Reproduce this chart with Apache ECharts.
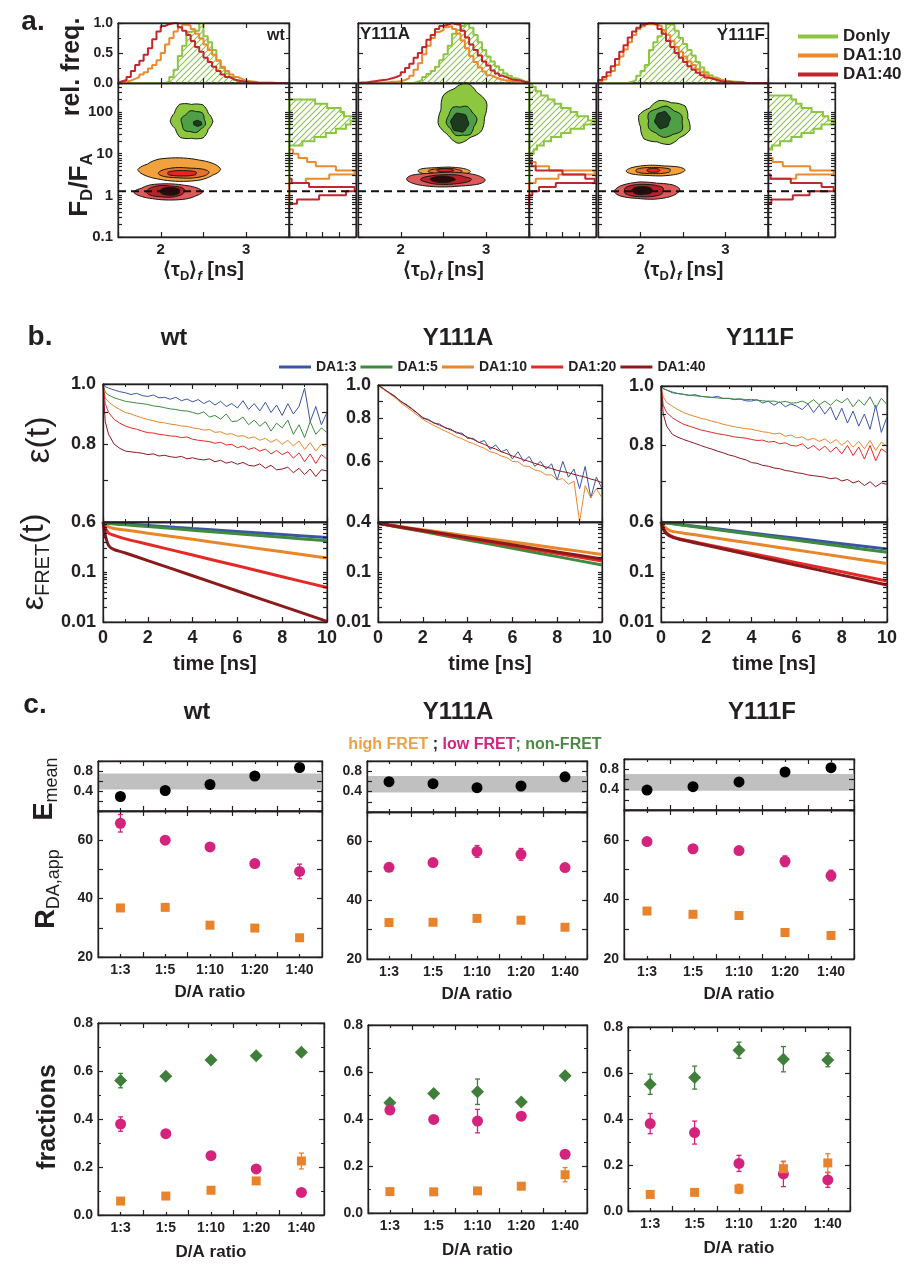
<!DOCTYPE html>
<html><head><meta charset="utf-8">
<script src="https://cdn.jsdelivr.net/npm/echarts@6/dist/echarts.min.js"></script>
<style>html,body{margin:0;padding:0;background:#fff}#c{width:904px;height:1264px}</style>
</head><body><div id="c"></div>
<script>
// ================= DATA =================
// ---- panel a: <tau_D>_f histograms (bins from 1.5 ns, width 0.05 ns) ----
const tauBinStart = 1.5, tauBinWidth = 0.05;
const wt_tau_Donly = [0,0,0,0,0,0,0,0,0,0, 0,0.02,0.1,0.22,0.45,0.62,0.85,0.87,0.87,1.0, 0.78,0.68,0.55,0.38,0.25,0.16,0.1,0.05,0.03,0.01, 0,0,0,0,0,0,0,0,0,0];
const wt_tau_DA10  = [0.01,0.02,0.04,0.07,0.1,0.14,0.18,0.24,0.3,0.38, 0.5,0.64,0.75,0.86,0.93,0.97,0.96,0.9,0.82,0.74, 0.64,0.55,0.47,0.37,0.27,0.2,0.14,0.1,0.07,0.04, 0.03,0.02,0.01,0.01,0.01,0.01,0,0,0,0];
const wt_tau_DA40  = [0.03,0.05,0.1,0.2,0.3,0.37,0.47,0.58,0.73,0.86, 0.95,0.98,1.0,1.0,0.93,0.87,0.8,0.7,0.6,0.52, 0.42,0.35,0.27,0.2,0.14,0.1,0.07,0.04,0.03,0.02, 0.01,0.01,0,0,0,0,0,0,0,0];
const Y111A_tau_Donly = [0,0,0,0,0,0,0,0,0,0, 0,0,0,0.02,0.05,0.1,0.15,0.2,0.27,0.38, 0.48,0.62,0.82,0.88,0.95,1.0,0.92,0.8,0.68,0.55, 0.44,0.36,0.28,0.22,0.16,0.12,0.08,0.06,0.03,0.02];
const Y111A_tau_DA10  = [0,0,0,0,0.01,0.01,0.01,0.02,0.02,0.03, 0.05,0.08,0.12,0.22,0.33,0.48,0.62,0.75,0.85,0.88, 0.93,0.95,0.9,0.82,0.71,0.58,0.45,0.35,0.26,0.19, 0.13,0.1,0.07,0.05,0.04,0.03,0.02,0.01,0.01,0];
const Y111A_tau_DA40  = [0.01,0.01,0.02,0.03,0.04,0.05,0.06,0.08,0.1,0.13, 0.18,0.25,0.32,0.42,0.5,0.6,0.72,0.8,0.9,0.95, 0.97,1.0,0.98,0.97,0.87,0.76,0.64,0.55,0.46,0.36, 0.29,0.21,0.16,0.12,0.09,0.06,0.05,0.04,0.02,0.01];
const Y111F_tau_Donly = [0,0,0,0,0,0,0,0.02,0.05,0.12, 0.2,0.3,0.55,0.68,0.78,0.88,0.98,0.97,0.87,0.75, 0.65,0.55,0.46,0.35,0.26,0.18,0.13,0.09,0.06,0.04, 0.03,0.02,0.02,0.01,0,0,0,0,0,0];
const Y111F_tau_DA10  = [0.02,0.06,0.12,0.2,0.3,0.44,0.56,0.68,0.8,0.9, 0.94,0.98,0.98,0.97,0.95,0.88,0.8,0.7,0.6,0.52, 0.44,0.36,0.3,0.23,0.18,0.13,0.09,0.07,0.05,0.03, 0.02,0.02,0.01,0.01,0,0,0,0,0,0];
const Y111F_tau_DA40  = [0.05,0.1,0.18,0.28,0.4,0.52,0.63,0.76,0.86,0.92, 0.97,1.0,1.0,0.97,0.9,0.82,0.7,0.6,0.5,0.42, 0.35,0.28,0.22,0.17,0.13,0.09,0.07,0.05,0.03,0.02, 0.02,0.01,0.01,0.01,0,0,0,0,0,0];

// ---- panel a: F_D/F_A histograms (bins in log10(F_D/F_A) from -0.3, width 0.1) ----
const fdBinStart = -0.3, fdBinWidth = 0.1;
const wt_fd_Donly = [0,0,0,0,0,0,0,0,0,0, 0,0,0,0,0,0.2,0.38,0.55,0.7,0.85, 0.92,0.97,0.82,0.77,0.57,0.39];
const wt_fd_DA10  = [0,0,0,0,0,0,0.25,0.6,0.98,0.7, 0.4,0.27,0.14,0.06];
const wt_fd_DA40  = [0,0.12,0.45,0.85,0.98,0.3,0.04];
const Y111A_fd_Donly = [0,0,0,0,0,0,0,0,0,0, 0,0,0,0.07,0.12,0.22,0.33,0.48,0.62,0.82, 0.98,0.88,0.72,0.62,0.48,0.38,0.28,0.18,0.1,0.05];
const Y111A_fd_DA10  = [0,0,0,0,0,0,0.1,0.44,0.98,0.3, 0.1,0.04];
const Y111A_fd_DA40  = [0,0,0,0.05,0.15,0.4,0.98,0.84,0.5,0.1, 0.04];
const Y111F_fd_Donly = [0,0,0,0,0,0,0,0,0,0, 0,0,0,0,0.06,0.18,0.35,0.5,0.68,0.8, 0.98,0.9,0.82,0.65,0.5,0.42,0.35];
const Y111F_fd_DA10  = [0,0,0,0,0,0,0,0.42,0.98,0.63, 0.22,0.07];
const Y111F_fd_DA40  = [0,0.05,0.37,0.62,0.98,0.8,0.34,0.04];
const fdfaRef = 1.26; // dashed reference line

// ---- panel a: 2D contour levels [tau centre, log10(FD/FA) centre, half-width ns, half-height decades] ----
const wt_blob_Donly = [[2.36,1.78,0.25,0.43],[2.38,1.77,0.14,0.27],[2.43,1.73,0.05,0.07]];
const wt_blob_DA10  = [[2.22,0.62,0.48,0.29],[2.27,0.54,0.31,0.13],[2.25,0.53,0.18,0.07]];
const wt_blob_DA40  = [[2.09,0.084,0.40,0.2],[2.06,0.096,0.235,0.145],[2.11,0.096,0.12,0.1]];
const Y111A_blob_Donly = [[2.72,1.97,0.29,0.68],[2.71,1.79,0.167,0.38],[2.69,1.75,0.108,0.22]];
const Y111A_blob_DA10  = [[2.51,0.58,0.32,0.1],[2.52,0.58,0.2,0.07],[2.52,0.6,0.1,0.04]];
const Y111A_blob_DA40  = [[2.53,0.38,0.48,0.18],[2.53,0.38,0.3,0.12],[2.49,0.385,0.147,0.08]];
const Y111F_blob_Donly = [[2.28,1.75,0.3,0.54],[2.29,1.77,0.215,0.36],[2.26,1.81,0.09,0.2]];
const Y111F_blob_DA10  = [[2.18,0.595,0.36,0.13],[2.15,0.595,0.216,0.08],[2.15,0.6,0.08,0.05]];
const Y111F_blob_DA40  = [[2.08,0.113,0.4,0.21],[2.04,0.113,0.245,0.16],[2.02,0.116,0.127,0.1]];
// contour outline irregularity (radial factors around the level)
const shape_Donly = [1.0,0.9,1.06,0.94,1.1,0.92,1.0,0.86,1.05,0.95,1.08,0.9];
const shape_DA    = [1.0,0.96,0.92,0.97,1.0,0.9,1.02,0.97,0.94,0.98,1.0,0.93];

// ---- panel b: epsilon(t) ----
const bTime = [0,0.1,0.25,0.5,0.75,1,1.25,1.5,1.75,2,2.25,2.5,2.75,3,3.25,3.5,3.75,4,4.25,4.5,4.75,5,5.25,5.5,5.75,6,6.25,6.5,6.75,7,7.25,7.5,7.75,8,8.25,8.5,8.75,9,9.25,9.5,9.75,10];
const wt_eps_DA3 = [1.000,0.990,0.985,0.978,0.972,0.968,0.962,0.966,0.958,0.955, 0.960,0.950,0.952,0.945,0.952,0.940,0.946,0.936,0.944,0.930, 0.940,0.925,0.938,0.920,0.930,0.915,0.940,0.910,0.930,0.905, 0.935,0.900,0.925,0.890,0.930,0.895,0.920,0.985,0.870,0.920, 0.860,0.900];
const wt_eps_DA5 = [1.000,0.970,0.960,0.950,0.944,0.938,0.935,0.932,0.930,0.927, 0.922,0.920,0.916,0.912,0.910,0.906,0.905,0.900,0.895,0.902, 0.885,0.890,0.878,0.895,0.870,0.872,0.885,0.860,0.875,0.855, 0.870,0.840,0.865,0.850,0.875,0.830,0.860,0.820,0.870,0.830, 0.850,0.835];
const wt_eps_DA10 = [1.000,0.950,0.935,0.921,0.910,0.900,0.895,0.888,0.882,0.877, 0.873,0.868,0.866,0.862,0.860,0.856,0.855,0.850,0.848,0.843, 0.845,0.836,0.838,0.830,0.832,0.824,0.826,0.818,0.822,0.812, 0.818,0.806,0.815,0.800,0.812,0.795,0.810,0.785,0.805,0.780, 0.800,0.790];
const wt_eps_DA20 = [1.000,0.930,0.900,0.877,0.865,0.856,0.850,0.846,0.840,0.835, 0.834,0.830,0.828,0.825,0.824,0.820,0.822,0.815,0.812,0.810, 0.808,0.803,0.806,0.798,0.800,0.790,0.795,0.785,0.790,0.780, 0.786,0.772,0.782,0.770,0.778,0.760,0.775,0.750,0.772,0.745, 0.770,0.757];
const wt_eps_DA40 = [1.000,0.870,0.830,0.800,0.788,0.780,0.778,0.776,0.774,0.770, 0.772,0.766,0.768,0.764,0.762,0.765,0.758,0.761,0.757,0.755, 0.758,0.750,0.754,0.746,0.750,0.743,0.748,0.740,0.738,0.744, 0.732,0.740,0.728,0.730,0.735,0.720,0.732,0.715,0.730,0.710, 0.728,0.725];
const Y111A_eps_DA3 = [1.000,0.990,0.975,0.950,0.930,0.895,0.880,0.855,0.830,0.800, 0.795,0.775,0.770,0.750,0.745,0.725,0.725,0.700,0.700,0.680, 0.690,0.650,0.670,0.640,0.650,0.610,0.640,0.600,0.620,0.580, 0.600,0.570,0.590,0.530,0.600,0.540,0.570,0.500,0.580,0.470, 0.540,0.500];
const Y111A_eps_DA10 = [1.000,0.985,0.970,0.945,0.920,0.890,0.865,0.842,0.818,0.795, 0.778,0.762,0.748,0.735,0.722,0.708,0.698,0.685,0.676,0.664, 0.655,0.640,0.634,0.622,0.615,0.600,0.598,0.582,0.580,0.566, 0.562,0.548,0.548,0.530,0.535,0.515,0.525,0.400,0.510,0.470, 0.500,0.470];
const Y111A_eps_DA40 = [1.000,0.990,0.975,0.950,0.925,0.900,0.875,0.852,0.828,0.805, 0.790,0.776,0.764,0.753,0.740,0.730,0.718,0.705,0.695,0.682, 0.672,0.660,0.652,0.640,0.632,0.622,0.615,0.606,0.600,0.592, 0.585,0.578,0.572,0.565,0.560,0.556,0.550,0.545,0.540,0.533, 0.528,0.520];
const Y111F_eps_DA3 = [1.000,0.990,0.985,0.975,0.972,0.969,0.965,0.968,0.962,0.960, 0.958,0.962,0.954,0.955,0.950,0.952,0.946,0.945,0.950,0.938, 0.945,0.930,0.942,0.925,0.935,0.927,0.915,0.935,0.905,0.930, 0.900,0.925,0.880,0.920,0.870,0.910,0.860,0.900,0.850,0.930, 0.840,0.890];
const Y111F_eps_DA5 = [1.000,0.990,0.985,0.978,0.972,0.969,0.966,0.964,0.962,0.960, 0.958,0.956,0.955,0.954,0.952,0.953,0.950,0.951,0.948,0.946, 0.944,0.945,0.940,0.944,0.938,0.939,0.945,0.935,0.950,0.932, 0.945,0.930,0.950,0.939,0.955,0.925,0.950,0.930,0.960,0.920, 0.955,0.933];
const Y111F_eps_DA10 = [1.000,0.960,0.940,0.927,0.915,0.905,0.898,0.892,0.886,0.882, 0.876,0.872,0.866,0.862,0.858,0.855,0.852,0.850,0.846,0.842, 0.840,0.835,0.838,0.828,0.832,0.823,0.826,0.816,0.822,0.812, 0.820,0.806,0.818,0.800,0.815,0.795,0.812,0.790,0.815,0.785, 0.810,0.798];
const Y111F_eps_DA20 = [1.000,0.930,0.905,0.888,0.876,0.866,0.860,0.854,0.848,0.844, 0.840,0.836,0.833,0.830,0.826,0.824,0.822,0.818,0.815,0.816, 0.810,0.812,0.805,0.808,0.800,0.798,0.805,0.790,0.800,0.785, 0.798,0.780,0.795,0.775,0.800,0.770,0.795,0.760,0.800,0.755, 0.790,0.778];
const Y111F_eps_DA40 = [1.000,0.900,0.860,0.834,0.825,0.818,0.812,0.806,0.800,0.794, 0.789,0.783,0.778,0.772,0.768,0.762,0.758,0.750,0.748,0.742, 0.740,0.735,0.733,0.728,0.726,0.722,0.720,0.716,0.714,0.712, 0.710,0.706,0.708,0.700,0.704,0.695,0.700,0.688,0.698,0.685, 0.695,0.691];

// ---- panel b: epsilon_FRET(t) fits ----
const bFitTime = [0,0.1,0.25,0.5,1,2,4,6,8,10];
const wt_fret_DA3  = [1.0,0.97,0.955,0.94,0.908,0.847,0.738,0.645,0.562,0.49];
const wt_fret_DA5  = [1.0,0.96,0.93,0.914,0.877,0.809,0.687,0.582,0.494,0.42];
const wt_fret_DA10 = [1.0,0.88,0.8,0.74,0.69,0.598,0.45,0.337,0.253,0.19];
const wt_fret_DA20 = [1.0,0.75,0.6,0.54,0.46,0.359,0.218,0.133,0.0806,0.049];
const wt_fret_DA40 = [1.0,0.55,0.34,0.28,0.24,0.169,0.084,0.0417,0.0207,0.0103];
const Y111A_fret_DA5  = [1.0,0.93,0.9,0.857,0.778,0.643,0.438,0.298,0.203,0.138];
const Y111A_fret_DA10 = [1.0,0.93,0.9,0.869,0.81,0.70,0.528,0.398,0.30,0.225];
const Y111A_fret_DA20 = [1.0,0.93,0.9,0.86,0.79,0.664,0.469,0.332,0.235,0.166];
const Y111A_fret_DA40 = [1.0,0.93,0.9,0.863,0.795,0.675,0.486,0.35,0.252,0.182];
const Y111F_fret_DA3  = [1.0,0.98,0.96,0.93,0.875,0.773,0.604,0.472,0.369,0.288];
const Y111F_fret_DA5  = [1.0,0.975,0.955,0.923,0.861,0.75,0.569,0.432,0.327,0.248];
const Y111F_fret_DA10 = [1.0,0.85,0.73,0.65,0.598,0.512,0.375,0.275,0.202,0.148];
const Y111F_fret_DA20 = [1.0,0.75,0.6,0.51,0.44,0.356,0.234,0.154,0.101,0.066];
const Y111F_fret_DA40 = [1.0,0.72,0.58,0.5,0.43,0.342,0.216,0.137,0.0867,0.055];

// ---- panel c ----
const ratios = ['1:3','1:5','1:10','1:20','1:40'];
const wt_Emean = [0.29,0.41,0.53,0.70,0.87];     const wt_Eband = [0.43,0.75];
const Y111A_Emean = [0.594,0.555,0.476,0.51,0.69]; const Y111A_Eband = [0.38,0.706];
const Y111F_Emean = [0.39,0.457,0.55,0.745,0.83];  const Y111F_Eband = [0.378,0.706];
const wt_Rlow = [65.8,60.0,57.7,52.0,49.3];   const wt_Rlow_err = [3.0,0,0,0,2.5];
const wt_Rhigh = [36.8,37.0,30.9,29.9,26.6];
const Y111A_Rlow = [51.2,52.8,56.6,55.6,51.1]; const Y111A_Rlow_err = [0.8,0.8,2.0,2.0,0.8];
const Y111A_Rhigh = [32.4,32.5,33.8,33.2,30.8];
const Y111F_Rlow = [59.4,57.0,56.4,52.8,48.0]; const Y111F_Rlow_err = [0.8,0.8,0.8,1.8,1.8];
const Y111F_Rhigh = [36.1,35.0,34.6,28.9,27.9];
const wt_fNon = [0.56,0.578,0.646,0.664,0.678];   const wt_fNon_err = [0.03,0.01,0.01,0.01,0.01];
const wt_fLow = [0.379,0.339,0.247,0.192,0.094];  const wt_fLow_err = [0.03,0.01,0.01,0.01,0.01];
const wt_fHigh = [0.058,0.079,0.103,0.142,0.225]; const wt_fHigh_err = [0.005,0.005,0.01,0.01,0.033];
const Y111A_fNon = [0.469,0.509,0.516,0.472,0.584]; const Y111A_fNon_err = [0.01,0.01,0.054,0.01,0.01];
const Y111A_fLow = [0.438,0.398,0.391,0.412,0.25];  const Y111A_fLow_err = [0.01,0.01,0.05,0.01,0.01];
const Y111A_fHigh = [0.091,0.09,0.094,0.114,0.163]; const Y111A_fHigh_err = [0.005,0.005,0.005,0.005,0.03];
const Y111F_fNon = [0.551,0.58,0.699,0.66,0.657];   const Y111F_fNon_err = [0.044,0.05,0.035,0.055,0.03];
const Y111F_fLow = [0.38,0.341,0.207,0.161,0.135];  const Y111F_fLow_err = [0.044,0.05,0.035,0.055,0.032];
const Y111F_fHigh = [0.072,0.081,0.096,0.184,0.209]; const Y111F_fHigh_err = [0.005,0.005,0.02,0.03,0.04];

// ================= BUILD =================
const FONT = 'Liberation Sans';
const INK = '#231f20';
const COL = {donly:'#8cc540', da10:'#ec8a2e', da40:'#c1272d',
  DA3:'#3a55a5', DA5:'#3f8a3f', DA10:'#e8862a', DA20:'#e32a27', DA40:'#8b1a1d',
  hi:'#e8832c', lo:'#d4237c', non:'#3f7f3a'};
const grids=[], xAxis=[], yAxis=[], series=[], graphic=[];

function merge(a,b){for(const k in b){const v=b[k];if(v&&typeof v==='object'&&!Array.isArray(v)&&a[k]&&typeof a[k]==='object'&&!Array.isArray(a[k]))merge(a[k],v);else a[k]=v;}return a;}
function mkAxis(list,g,pos,s,show,extra){
  const ax={gridIndex:g,position:pos,type:s.type||'value',
    axisLine:{show:true,onZero:false,lineStyle:{color:INK,width:1.3}},
    axisTick:{show:true,inside:true,length:s.tickLen||5,lineStyle:{color:INK,width:1.2}},
    axisLabel:{show:!!show,color:INK,fontFamily:FONT,fontWeight:'bold',fontSize:s.fs||14,margin:s.margin==null?6:s.margin,hideOverlap:false},
    splitLine:{show:false},splitArea:{show:false},z:6};
  if(s.type==='category'){ax.data=s.data;ax.boundaryGap=true;}
  else{ax.min=s.min;ax.max=s.max;if(s.interval!=null)ax.interval=s.interval;}
  if(s.ticks)ax.axisTick.customValues=s.ticks;
  if(s.labels)ax.axisLabel.customValues=s.labels;
  if(s.fmt)ax.axisLabel.formatter=s.fmt;
  if(s.minor)ax.minorTick={show:true,splitNumber:s.minor,length:3,lineStyle:{color:INK,width:1}};
  if(extra)merge(ax,extra);
  list.push(ax);return list.length-1;
}
function panel(box,xs,ys,o){
  o=o||{};
  const g=grids.length;
  grids.push({left:box[0],top:box[1],width:box[2],height:box[3],show:true,borderColor:INK,borderWidth:1,
    backgroundColor:'rgba(0,0,0,0)',containLabel:false,outerBoundsMode:'none'});
  const x=mkAxis(xAxis,g,'bottom',xs,o.xl,o.xn);
  mkAxis(xAxis,g,'top',xs,false);
  if(xs.type==='category'){
    const ex={axisLine:{show:false},axisTick:{alignWithLabel:true,length:3}};
    mkAxis(xAxis,g,'bottom',xs,false,ex); mkAxis(xAxis,g,'top',xs,false,ex);
  }
  const y=mkAxis(yAxis,g,'left',ys,o.yl);
  mkAxis(yAxis,g,'right',ys,false);
  return {g,x,y};
}
function logTicks(lo,hi){const out=[];for(let n=-3;n<=3;n++)for(let k=1;k<10;k++){const v=Math.log10(k*Math.pow(10,n));if(v>=lo-1e-9&&v<=hi+1e-9)out.push(v);}return out;}
function T(x,y,text,size,o){o=o||{};
  const st={text,fill:INK,fontFamily:FONT,fontWeight:o.weight||'bold',fontSize:size,align:o.align||'center',verticalAlign:'middle',
    textAlign:o.align||'center',textVerticalAlign:'middle'};
  if(o.color)st.fill=o.color;
  if(o.rich)st.rich=o.rich;
  graphic.push({type:'text',x,y,rotation:o.rot||0,z:20,silent:true,style:st});
}
function rtok(size,extra){return Object.assign({fontFamily:FONT,fontWeight:'bold',fontSize:size,fill:INK,color:INK},extra||{});}

const hatchImg=(function(){const c=document.createElement('canvas');c.width=6;c.height=6;const x=c.getContext('2d');
  x.strokeStyle=COL.donly;x.lineWidth=1.1;x.beginPath();x.moveTo(0,6);x.lineTo(6,0);x.moveTo(-1,1);x.lineTo(1,-1);x.moveTo(5,7);x.lineTo(7,5);x.stroke();return c;})();
const hatchFill={image:hatchImg,repeat:'repeat'};

function tauSteps(vals){const p=[[tauBinStart,0]];vals.forEach((v,i)=>{const a=+(tauBinStart+i*tauBinWidth).toFixed(3);p.push([a,v],[+(a+tauBinWidth).toFixed(3),v]);});p.push([+(tauBinStart+vals.length*tauBinWidth).toFixed(3),0]);return p;}
function fdSteps(vals){const p=[[0,fdBinStart]];vals.forEach((v,i)=>{const a=+(fdBinStart+i*fdBinWidth).toFixed(3);p.push([v,a],[v,+(a+fdBinWidth).toFixed(3)]);});p.push([0,+(fdBinStart+vals.length*fdBinWidth).toFixed(3)]);return p;}
function radial(sh,a,phase){const n=sh.length;const u=((a/(2*Math.PI))*n+phase)%n;const i=Math.floor(u),f=u-i;return sh[i%n]*(1-f)+sh[(i+1)%n]*f;}

// ---------- panel a ----------
const aSets=[
  {tau:[wt_tau_Donly,wt_tau_DA10,wt_tau_DA40],fd:[wt_fd_Donly,wt_fd_DA10,wt_fd_DA40],blob:[wt_blob_Donly,wt_blob_DA10,wt_blob_DA40]},
  {tau:[Y111A_tau_Donly,Y111A_tau_DA10,Y111A_tau_DA40],fd:[Y111A_fd_Donly,Y111A_fd_DA10,Y111A_fd_DA40],blob:[Y111A_blob_Donly,Y111A_blob_DA10,Y111A_blob_DA40]},
  {tau:[Y111F_tau_Donly,Y111F_tau_DA10,Y111F_tau_DA40],fd:[Y111F_fd_Donly,Y111F_fd_DA10,Y111F_fd_DA40],blob:[Y111F_blob_Donly,Y111F_blob_DA10,Y111F_blob_DA40]}];
const aLayout=[
  {top:[118,23,171,60],main:[118,83,171,154],marg:[289,83,67,154]},
  {top:[358,23,171,60],main:[358,83,171,154],marg:[529,83,67,154]},
  {top:[598,23,170,60],main:[598,83,170,154],marg:[768,83,67,154]}];
const LOGMIN=-1, LOGMAX=Math.log10(500);
const aLogTicks=logTicks(LOGMIN,LOGMAX);
const decLbl={'-2':'0.01','-1':'0.1','0':'1','1':'10','2':'100'};
const tauKeys=[['Donly',COL.donly],['DA1:10',COL.da10],['DA1:40',COL.da40]];
const blobCols=[['#8dc63f','#4f9f47','#1e3a1e'],['#f2a23c','#e8702a','#e3261f'],['#dc5a5a','#b8202a','#2b0b0b']];
const blobShapes=[shape_Donly,shape_DA,shape_DA];
const tauName={name:'{m|⟨τ}{s|D}{m|⟩}{f|f}{m| [ns]}',nameLocation:'middle',nameGap:20,nameMoveOverlap:false,
  nameTextStyle:{rich:{m:rtok(20,{lineHeight:26}),s:rtok(13,{lineHeight:10,verticalAlign:'bottom'}),f:rtok(13,{fontStyle:'italic',lineHeight:10,verticalAlign:'bottom'})}}};

aSets.forEach((S,i)=>{
  const L=aLayout[i];
  const tp=panel(L.top,{min:1.5,max:3.5,interval:0.5},{min:0,max:1,interval:0.5,minor:2,fmt:v=>v.toFixed(1),margin:5},{yl:i===0});
  const mn=panel(L.main,{min:1.5,max:3.5,interval:0.5,fs:15,margin:5,fmt:v=>Math.abs(v-Math.round(v))<1e-6?String(Math.round(v)):''},
    {min:LOGMIN,max:LOGMAX,ticks:aLogTicks,labels:[-1,0,1,2],fs:15,margin:5,tickLen:4,fmt:v=>decLbl[Math.round(v)]},{xl:true,yl:i===0,xn:tauName});
  const mg=panel(L.marg,{min:0,max:1,interval:0.25},{min:LOGMIN,max:LOGMAX,ticks:aLogTicks,tickLen:4},{});
  S.tau.forEach((arr,k)=>{
    const o={type:'line',name:tauKeys[k][0],xAxisIndex:tp.x,yAxisIndex:tp.y,data:tauSteps(arr),color:tauKeys[k][1],symbol:'none',
      lineStyle:{width:2,color:tauKeys[k][1]},z:3+k,animation:false};
    if(k===0)o.areaStyle={color:hatchFill,opacity:1};
    series.push(o);
  });
  S.blob.forEach((lv,k)=>{
    const cols=blobCols[k], sh=blobShapes[k];
    series.push({type:'custom',xAxisIndex:mn.x,yAxisIndex:mn.y,data:lv,encode:{x:0,y:1},z:3+k,animation:false,silent:true,
      renderItem:(p,api)=>{const cx=api.value(0),cy=api.value(1),hw=api.value(2),hh=api.value(3);const pts=[];
        for(let j=0;j<60;j++){const a=j/60*2*Math.PI;const r=radial(sh,a,p.dataIndex*2.5+i*1.3);pts.push(api.coord([cx+hw*r*Math.cos(a),cy+hh*r*Math.sin(a)]));}
        return {type:'polygon',shape:{points:pts},style:{fill:cols[p.dataIndex],stroke:'#161616',lineWidth:1}};}});
  });
  const ref=Math.log10(fdfaRef);
  series.push({type:'line',xAxisIndex:mn.x,yAxisIndex:mn.y,data:[[1.5,ref],[3.5,ref]],symbol:'none',lineStyle:{color:'#111',width:2,type:[8,5]},z:9,animation:false});
  const fdD=S.fd[0];
  series.push({type:'custom',xAxisIndex:mg.x,yAxisIndex:mg.y,data:[[0,0]],encode:{x:0,y:1},z:3,animation:false,silent:true,
    renderItem:(p,api)=>({type:'polygon',shape:{points:fdSteps(fdD).map(q=>api.coord(q))},style:{fill:hatchFill,stroke:COL.donly,lineWidth:2}})});
  [[S.fd[1],COL.da10],[S.fd[2],COL.da40]].forEach(([arr,c],k)=>{
    series.push({type:'line',xAxisIndex:mg.x,yAxisIndex:mg.y,data:fdSteps(arr),symbol:'none',color:c,lineStyle:{width:2,color:c},z:4+k,animation:false});
  });
  series.push({type:'line',xAxisIndex:mg.x,yAxisIndex:mg.y,data:[[0,ref],[1,ref]],symbol:'none',lineStyle:{color:'#111',width:2,type:[8,5]},z:9,animation:false});
});
T(276,36,'wt',16);
T(360,34,'Y111A',17,{align:'left'});
T(765,35,'Y111F',17,{align:'right'});
T(33,22,'a.',28);
T(72,67,'rel. freq.',25,{rot:Math.PI/2});
T(80,185,'{m|F}{s|D}{m|/F}{s|A}',26,{rot:Math.PI/2,rich:{m:rtok(26,{lineHeight:32}),s:rtok(17,{lineHeight:12,verticalAlign:'bottom'})}});

// ---------- panel b ----------
const bKeys=['DA3','DA5','DA10','DA20','DA40'];
const bLabel={DA3:'b:DA1:3',DA5:'b:DA1:5',DA10:'b:DA1:10',DA20:'b:DA1:20',DA40:'b:DA1:40'};
const bSets=[
  {lo:0.6,eps:{DA3:wt_eps_DA3,DA5:wt_eps_DA5,DA10:wt_eps_DA10,DA20:wt_eps_DA20,DA40:wt_eps_DA40},
   fret:{DA3:wt_fret_DA3,DA5:wt_fret_DA5,DA10:wt_fret_DA10,DA20:wt_fret_DA20,DA40:wt_fret_DA40}},
  {lo:0.4,eps:{DA3:Y111A_eps_DA3,DA10:Y111A_eps_DA10,DA40:Y111A_eps_DA40},
   fret:{DA5:Y111A_fret_DA5,DA20:Y111A_fret_DA20,DA40:Y111A_fret_DA40,DA10:Y111A_fret_DA10}},
  {lo:0.6,eps:{DA3:Y111F_eps_DA3,DA5:Y111F_eps_DA5,DA10:Y111F_eps_DA10,DA20:Y111F_eps_DA20,DA40:Y111F_eps_DA40},
   fret:{DA3:Y111F_fret_DA3,DA5:Y111F_fret_DA5,DA10:Y111F_fret_DA10,DA20:Y111F_fret_DA20,DA40:Y111F_fret_DA40}}];
const bLayout=[{top:[103,384,224,138],bot:[103,522,224,100]},{top:[378,385,224,137],bot:[378,522,224,100]},{top:[661,386,226,136],bot:[661,522,226,100]}];
const timeName={name:'time [ns]',nameLocation:'middle',nameGap:32,nameMoveOverlap:false,nameTextStyle:{fontFamily:FONT,fontWeight:'bold',fontSize:20,color:INK}};
bSets.forEach((S,i)=>{
  const L=bLayout[i];
  const tk=[];for(let v=S.lo;v<=1.0001;v+=0.1)tk.push(Math.log10(+v.toFixed(1)));
  const lb=(S.lo<0.5?[0.4,0.6,0.8,1.0]:[0.6,0.8,1.0]).map(v=>Math.log10(v));
  const tp=panel(L.top,{min:0,max:10,interval:2,minor:2},{min:Math.log10(S.lo),max:0,ticks:tk,labels:lb,fs:18,margin:7,fmt:v=>Math.pow(10,v).toFixed(1)},{yl:true});
  const bt=panel(L.bot,{min:0,max:10,interval:2,minor:2,fs:18,margin:7},{min:-2,max:0,ticks:logTicks(-2,0),labels:[-2,-1],tickLen:4,fs:18,margin:7,fmt:v=>decLbl[Math.round(v)]},{xl:true,yl:true,xn:timeName});
  bKeys.forEach(k=>{const arr=S.eps[k];if(!arr)return;
    series.push({type:'line',name:bLabel[k],xAxisIndex:tp.x,yAxisIndex:tp.y,data:bTime.map((t,j)=>[t,Math.log10(arr[j])]),symbol:'none',color:COL[k],lineStyle:{width:1,color:COL[k]},animation:false,clip:true});
  });
  bKeys.forEach(k=>{const arr=S.fret[k];if(!arr)return;
    series.push({type:'line',name:bLabel[k],xAxisIndex:bt.x,yAxisIndex:bt.y,data:bFitTime.map((t,j)=>[t,Math.log10(arr[j])]),symbol:'none',smooth:0.2,color:COL[k],lineStyle:{width:3,color:COL[k]},animation:false,clip:true});
  });
});
T(40,337,'b.',28);
T(174,338,'wt',24); T(458,338,'Y111A',24); T(760,338,'Y111F',24);
T(40,440,'ε(t)',34,{rot:Math.PI/2,weight:'normal'});
T(34,562,'{m|ε}{s|FRET}{m|(t)}',30,{rot:Math.PI/2,rich:{m:rtok(32,{fontWeight:'normal',lineHeight:38}),s:rtok(20,{fontWeight:'normal',lineHeight:14,verticalAlign:'bottom'})}});

// ---------- panel c ----------
const cSets=[
  {E:wt_Emean,band:wt_Eband,Rlo:wt_Rlow,RloE:wt_Rlow_err,Rhi:wt_Rhigh,non:wt_fNon,nonE:wt_fNon_err,low:wt_fLow,lowE:wt_fLow_err,hi:wt_fHigh,hiE:wt_fHigh_err},
  {E:Y111A_Emean,band:Y111A_Eband,Rlo:Y111A_Rlow,RloE:Y111A_Rlow_err,Rhi:Y111A_Rhigh,non:Y111A_fNon,nonE:Y111A_fNon_err,low:Y111A_fLow,lowE:Y111A_fLow_err,hi:Y111A_fHigh,hiE:Y111A_fHigh_err},
  {E:Y111F_Emean,band:Y111F_Eband,Rlo:Y111F_Rlow,RloE:Y111F_Rlow_err,Rhi:Y111F_Rhigh,non:Y111F_fNon,nonE:Y111F_fNon_err,low:Y111F_fLow,lowE:Y111F_fLow_err,hi:Y111F_fHigh,hiE:Y111F_fHigh_err}];
const cLayout=[
  {E:[98,761,224,50],R:[98,811,224,146],F:[98,1023,226,192]},
  {E:[367,761,220,51],R:[367,812,220,147],F:[368,1025,219,188]},
  {E:[624,759,230,51],R:[624,810,230,149],F:[628,1027,222,184]}];
const catX={type:'category',data:ratios,fs:14,margin:6};
const daName=(gap)=>({name:'D/A ratio',nameLocation:'middle',nameGap:gap,nameMoveOverlap:false,nameTextStyle:{fontFamily:FONT,fontWeight:'bold',fontSize:17,color:INK}});
function errSeries(ax,vals,errs,color){
  return {type:'custom',xAxisIndex:ax.x,yAxisIndex:ax.y,data:vals.map((v,i)=>[i,v,errs[i]]),encode:{x:0,y:1},z:2,silent:true,animation:false,
    renderItem:(p,api)=>{const i=api.value(0),v=api.value(1),e=api.value(2);if(!e)return;const a=api.coord([i,v+e]),b=api.coord([i,v-e]);const w=2.5;
      const st={stroke:color,lineWidth:1.3};
      return {type:'group',children:[{type:'line',shape:{x1:a[0],y1:a[1],x2:b[0],y2:b[1]},style:st},
        {type:'line',shape:{x1:a[0]-w,y1:a[1],x2:a[0]+w,y2:a[1]},style:st},{type:'line',shape:{x1:b[0]-w,y1:b[1],x2:b[0]+w,y2:b[1]},style:st}]};}};
}
function scat(ax,vals,symbol,size,color){return {type:'scatter',xAxisIndex:ax.x,yAxisIndex:ax.y,data:vals,symbol,symbolSize:size,itemStyle:{color,opacity:1},z:4,animation:false};}
const near=(a,b)=>Math.abs(a-b)<1e-6;
cSets.forEach((S,i)=>{
  const L=cLayout[i];
  const e=panel(L.E,catX,{min:0,max:1,interval:0.2,margin:5,fmt:v=>(near(v,0.4)||near(v,0.8))?v.toFixed(1):''},{yl:true});
  const r=panel(L.R,catX,{min:20,max:70,interval:10,margin:5,fmt:v=>(Math.round(v)%20===0)?String(Math.round(v)):''},{xl:true,yl:true,xn:daName(27)});
  const f=panel(L.F,catX,{min:0,max:0.8,interval:0.2,minor:2,margin:5,fmt:v=>v.toFixed(1)},{xl:true,yl:true,xn:daName(29)});
  const es=scat(e,S.E,'circle',11,'#000');
  es.markArea={silent:true,itemStyle:{color:'#c0c0c0',opacity:1},data:[[{yAxis:S.band[0]},{yAxis:S.band[1]}]]};
  series.push(es);
  series.push(errSeries(r,S.Rlo,S.RloE,COL.lo));
  series.push(scat(r,S.Rlo,'circle',11,COL.lo));
  series.push(scat(r,S.Rhi,'rect',9,COL.hi));
  series.push(errSeries(f,S.non,S.nonE,COL.non));
  series.push(errSeries(f,S.low,S.lowE,COL.lo));
  series.push(errSeries(f,S.hi,S.hiE,COL.hi));
  series.push(scat(f,S.non,'diamond',13,COL.non));
  series.push(scat(f,S.low,'circle',11,COL.lo));
  series.push(scat(f,S.hi,'rect',9,COL.hi));
});
T(35,705,'c.',28);
T(197,712,'wt',24); T(458,712,'Y111A',24); T(762,712,'Y111F',24);
T(475,745,'{o|high FRET}{k| ; }{m|low FRET}{g|; non-FRET}',16,{rich:{o:rtok(16,{fill:'#f0a040',color:'#f0a040'}),k:rtok(16),m:rtok(16,{fill:COL.lo,color:COL.lo}),g:rtok(16,{fill:'#4a8a45',color:'#4a8a45'})}});
T(45,789,'{m|E}{s|mean}',26,{rot:Math.PI/2,rich:{m:rtok(27,{lineHeight:32}),s:rtok(18,{fontWeight:'normal',lineHeight:12,verticalAlign:'bottom'})}});
T(47,889,'{m|R}{s|DA,app}',26,{rot:Math.PI/2,rich:{m:rtok(27,{lineHeight:32}),s:rtok(18,{fontWeight:'normal',lineHeight:12,verticalAlign:'bottom'})}});
T(48,1117,'fractions',25,{rot:Math.PI/2});

// ---------- legends ----------
const legA={data:['Donly','DA1:10','DA1:40'],orient:'vertical',left:793,top:22,itemWidth:40,itemHeight:4,itemGap:0,icon:'rect',selectedMode:false,
  textStyle:{fontFamily:FONT,fontWeight:'bold',fontSize:17,color:INK,lineHeight:19}};
const legB={data:['b:DA1:3','b:DA1:5','b:DA1:10','b:DA1:20','b:DA1:40'],orient:'horizontal',left:274,top:355,itemWidth:32,itemHeight:3,itemGap:4,icon:'rect',selectedMode:false,
  formatter:n=>n.replace('b:',''),textStyle:{fontFamily:FONT,fontWeight:'bold',fontSize:14,color:INK}};

const chart=echarts.init(document.getElementById('c'),null,{renderer:'canvas',width:904,height:1264});
chart.setOption({animation:false,backgroundColor:'#ffffff',textStyle:{fontFamily:FONT},
  grid:grids,xAxis,yAxis,series,legend:[legA,legB],graphic:{elements:graphic}});
</script></body></html>
